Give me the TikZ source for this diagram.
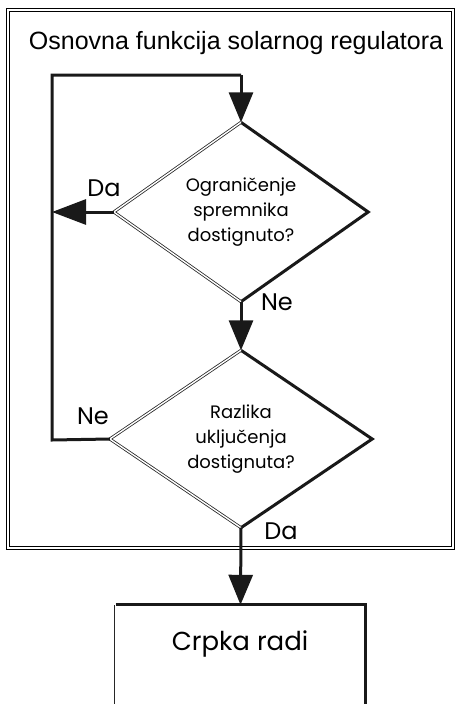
\documentclass[tikz,border=0pt]{standalone}
\usepackage{fontspec}
\setmainfont{Liberation Sans}
\newfontfamily\geo{Poppins}
\usetikzlibrary{shapes.geometric,arrows.meta}
\tikzset{
  thickln/.style={line width=3pt, draw=black!90},
  bevel/.style={draw=black!85, line width=0.8pt, double=white, double distance=1.4pt},
  framest/.style={draw=black, line width=1.1pt, double=white, double distance=1.6pt},
  dia/.style={shape=diamond, draw=none, inner sep=0pt, align=center, font=\geo\fontsize{18}{25}\selectfont},
  lbl/.style={font=\geo\fontsize{24}{26}\selectfont, inner sep=0pt},
  conn/.style={thickln, -{Triangle[length=30pt,width=24pt]}},
}
\begin{document}
\begin{tikzpicture}[x=1pt,y=-1pt]
\useasboundingbox (0,0) rectangle (456,704);
% outer frame
\draw[framest] (8,10) rectangle (453,548);
\node[font=\fontsize{25}{28}\selectfont, inner sep=0pt] (title) at (236,43) {Osnovna funkcija solarnog regulatora};
% diamonds
\node[dia, minimum width=254pt, minimum height=170pt] (d1) at (241,212) {Ograničenje\\spremnika\\dostignuto?};
\node[dia, minimum width=262pt, minimum height=177pt] (d2) at (241,439) {Razlika\\uključenja\\dostignuta?};
\foreach \d in {d1,d2}{
  \draw[thickln, line join=miter] (\d.north) -- (\d.east) -- (\d.south);
  \draw[bevel] (\d.north) -- (\d.west) -- (\d.south);
}
% bottom box
\node[rectangle, draw=none, minimum width=249pt, minimum height=112pt, inner sep=0pt] (b) at (240.5,661) {};
\node[font=\geo\fontsize{26}{28}\selectfont, inner sep=0pt] (bt) at (240,644) {Crpka radi};
\draw[bevel] (b.south west) -- (b.north west);
\draw[thickln] (b.north west) -- (b.north east) -- (b.south east);
% loop
\coordinate (lb) at (52,440);
\coordinate (lt) at (52,75);
\coordinate (tt) at (241,75);
\coordinate (lm) at (52,212);
\draw[thickln, line join=miter] (d2.west) -- (lb) -- (lt) -- (tt);
\draw[conn] (tt) -- (d1.north);
\draw[thickln, -{Triangle[length=34pt,width=25pt]}] (d1.west) -- (lm);
\draw[conn] (d1.south) -- (d2.north);
\draw[conn] (d2.south) -- (b.north);
% labels
\node[lbl] (l1) at (104,188) {Da};
\node[lbl] (l2) at (277,302) {Ne};
\node[lbl] (l3) at (93,416) {Ne};
\node[lbl] (l4) at (281,531) {Da};
\end{tikzpicture}
\end{document}
